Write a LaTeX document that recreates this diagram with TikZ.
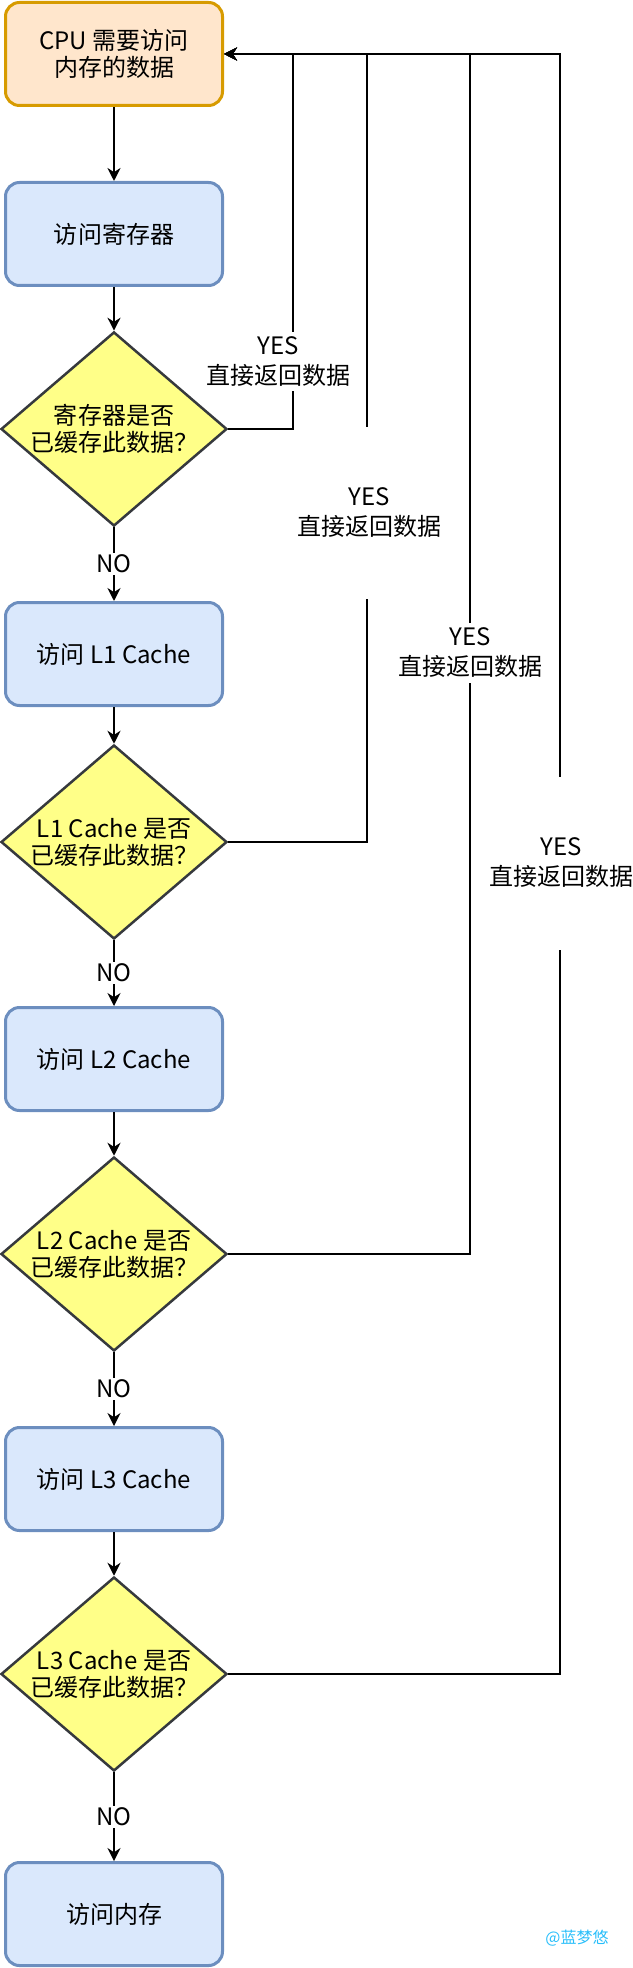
\documentclass[tikz,border=0pt]{standalone}
\usepackage{fontspec}
\setmainfont{Noto Sans CJK SC}
\usetikzlibrary{shapes.geometric,arrows.meta}
\definecolor{orangefill}{HTML}{FFE6CC}
\definecolor{orangeline}{HTML}{D79B00}
\definecolor{bluefill}{HTML}{DAE8FC}
\definecolor{blueline}{HTML}{6C8EBF}
\definecolor{askfill}{HTML}{FFFF88}
\definecolor{askline}{HTML}{36393D}
\definecolor{wmark}{RGB}{40,190,250}

\begin{document}
\begin{tikzpicture}[x=1pt,y=-1pt,font=\fontsize{12}{13.5}\selectfont,
  start/.style={draw=orangeline,fill=orangefill,line width=1.5pt,rounded corners=7pt,
    minimum width=108.5pt,minimum height=51.5pt,align=center},
  proc/.style={draw=blueline,fill=bluefill,line width=1.5pt,rounded corners=7pt,
    minimum width=108.5pt,minimum height=51.5pt,align=center},
  ask/.style={diamond,aspect=1.16,draw=askline,fill=askfill,line width=1.25pt,
    minimum width=113pt,minimum height=97pt,inner sep=0pt,align=center},
  flow/.style={line width=1pt,-{Stealth[length=6.5pt,width=6.5pt]}},
  yes/.style={fill=white,inner sep=0pt,minimum width=74pt,align=center,
    font=\fontsize{12}{15}\selectfont},
  no/.style={fill=white,inner sep=1pt}]
\useasboundingbox (0,0) rectangle (316,984);

% main column
\node [start] (cpu) at (57,27) {CPU 需要访问\\内存的数据};
\node [proc] (reg) at (57,117) {访问寄存器};
\node [ask] (q0) at (57,214.5) {寄存器是否\\已缓存此数据？};
\node [proc] (l1) at (57,327) {访问 L1 Cache};
\node [ask] (q1) at (57,421) {L1 Cache 是否\\已缓存此数据？};
\node [proc] (l2) at (57,529.5) {访问 L2 Cache};
\node [ask] (q2) at (57,627) {L2 Cache 是否\\已缓存此数据？};
\node [proc] (l3) at (57,739.5) {访问 L3 Cache};
\node [ask] (q3) at (57,837) {L3 Cache 是否\\已缓存此数据？};
\node [proc] (mem) at (57,957) {访问内存};

\draw [flow] (cpu) -- (reg);
\draw [flow] (reg) -- (q0);
\draw [flow] (q0) -- node [no] {NO} (l1);
\draw [flow] (l1) -- (q1);
\draw [flow] (q1) -- node [no] {NO} (l2);
\draw [flow] (l2) -- (q2);
\draw [flow] (q2) -- node [no] {NO} (l3);
\draw [flow] (l3) -- (q3);
\draw [flow] (q3) -- node [no] {NO} (mem);

% return paths
\coordinate (b0) at (146.5,27);
\coordinate (b1) at (183.5,27);
\coordinate (b2) at (235,27);
\coordinate (b3) at (280,27);
\draw [flow] (q0.east) -| (b0) -- (cpu.east);
\draw [flow] (q1.east) -| (b1) -- (cpu.east);
\draw [flow] (q2.east) -| (b2) -- (cpu.east);
\draw [flow] (q3.east) -| (b3) -- (cpu.east);

\node [yes,minimum height=29.5pt] (y0) at (139,181) {YES\\直接返回数据};
\node [yes,minimum height=86pt] (y1) at (184.5,256.5) {YES\\直接返回数据};
\node [yes,minimum height=30pt] (y2) at (235,326.5) {YES\\直接返回数据};
\node [yes,minimum height=86.5pt] (y3) at (280.5,431.5) {YES\\直接返回数据};

\node [text=wmark,font=\fontsize{8}{9}\selectfont] (mark) at (288.5,969) {@蓝梦悠};
\end{tikzpicture}
\end{document}
